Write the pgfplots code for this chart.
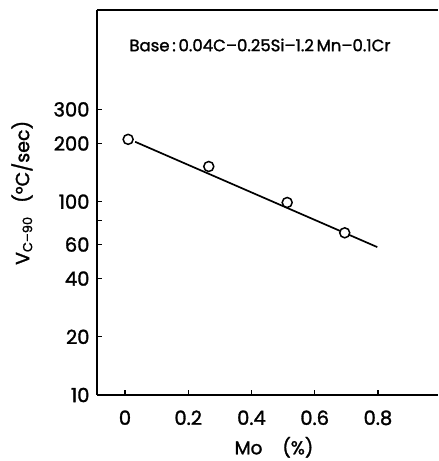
\documentclass[border=0pt]{standalone}
\usepackage{fontspec}
\setmainfont{Poppins}[FakeBold=1.5]
\usepackage{pgfplots}
\pgfplotsset{compat=1.18}
\begin{document}
\begin{tikzpicture}
\path[use as bounding box] (-97bp,-66bp) rectangle (342bp,395bp);
\begin{axis}[
  at={(0,0)}, anchor=south west,
  scale only axis, width=341bp, height=385bp,
  xmin=-0.0885, xmax=0.99,
  ymode=log, ymin=10, ymax=980,
  axis x line*=box, axis y line*=left,
  axis line style={-, line width=1.5bp},
  xtick={0,0.2,0.4,0.6,0.8},
  xticklabels={0,0.2,0.4,0.6,0.8},
  ytick={10,20,40,60,80,100,200,300},
  yticklabels={10,20,40,60,,100,200,300},
  yminorticks=false,
  xtick pos=bottom, ytick pos=left,
  tick align=inside, major tick length=5bp,
  tick style={line width=1.2bp, black},
  /pgf/number format/assume math mode=true,
  tick label style={font=\fontsize{19.5bp}{22bp}\selectfont},
  xticklabel style={yshift=-12bp},
  yticklabel style={xshift=-4bp},
  clip=false,
]
\addplot[line width=1.7bp] coordinates {(0.032,204) (0.798,58.2)};
\addplot[only marks, mark=*, mark size=5bp, mark options={fill=white, draw=black, line width=1.5bp}] coordinates {(0.01,210) (0.265,152) (0.513,99) (0.695,69)};
\node[font=\fontsize{16.5bp}{19bp}\selectfont] at (axis description cs:0.478,0.909) {Base\,:\,0.04C--0.25Si--1.2\,Mn--0.1Cr};
\node[rotate=90, font=\fontsize{19bp}{22bp}\selectfont] at (axis description cs:-0.22,0.525) {V\raisebox{-3bp}{\fontsize{13bp}{15bp}\selectfont C--90}\hspace{14bp}(°C/sec)};
\node[font=\fontsize{18.5bp}{21bp}\selectfont] at (axis description cs:0.519,-0.136) {Mo\hspace{20bp}(\%)};
\end{axis}
\end{tikzpicture}
\end{document}
